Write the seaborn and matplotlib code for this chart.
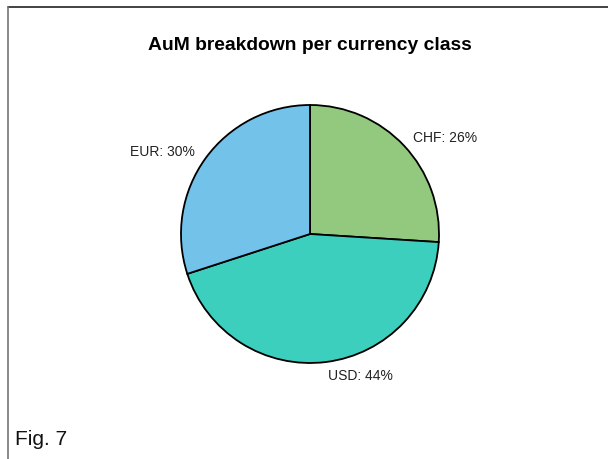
import matplotlib
matplotlib.use("Agg")
import matplotlib.pyplot as plt
from matplotlib.lines import Line2D
import seaborn as sns

sns.set_theme(style="white")
plt.rcParams["font.family"] = ["Liberation Sans", "DejaVu Sans"]

# AuM share per currency class (percent)
currencies = ["CHF", "USD", "EUR"]
shares = [26, 44, 30]
colors = ["#93C97E", "#3CCFBE", "#72C2EA"]

W, H = 608, 460
fig = plt.figure(figsize=(W / 100, H / 100), dpi=100)
fig.patch.set_facecolor("white")

# square axes holding the pie
cx, cy, r = 310, 235, 129
ax = fig.add_axes([(cx - r) / W, (H - cy - r) / H, 2 * r / W, 2 * r / H])
labels = [f"{c}: {s}%" for c, s in zip(currencies, shares)]
ax.pie(shares, labels=labels, colors=colors, startangle=90, counterclock=False,
       radius=1.0, labeldistance=1.1,
       wedgeprops=dict(edgecolor="black", linewidth=1.3),
       textprops=dict(fontsize=10, color="#222222"))
ax.set_xlim(-1.0, 1.0)
ax.set_ylim(-1.0, 1.0)
ax.set_aspect("equal")
ax.axis("off")

fig.text(310 / W, 1 - 46 / H, "AuM breakdown per currency class",
         ha="center", va="center", fontsize=13.9, fontweight="bold", color="black")
fig.text(15 / W, 1 - 440 / H, "Fig. 7", ha="left", va="center",
         fontsize=15, color="#111111")

# frame lines along the top and left
fig.add_artist(Line2D([8 / W, 1.0], [1 - 8 / H, 1 - 8 / H], transform=fig.transFigure,
                      color="#222222", linewidth=1.2))
fig.add_artist(Line2D([8 / W, 8 / W], [1 - 8 / H, 0.0], transform=fig.transFigure,
                      color="#777777", linewidth=1.2))

fig.savefig("out.png", dpi=100, facecolor="white")
